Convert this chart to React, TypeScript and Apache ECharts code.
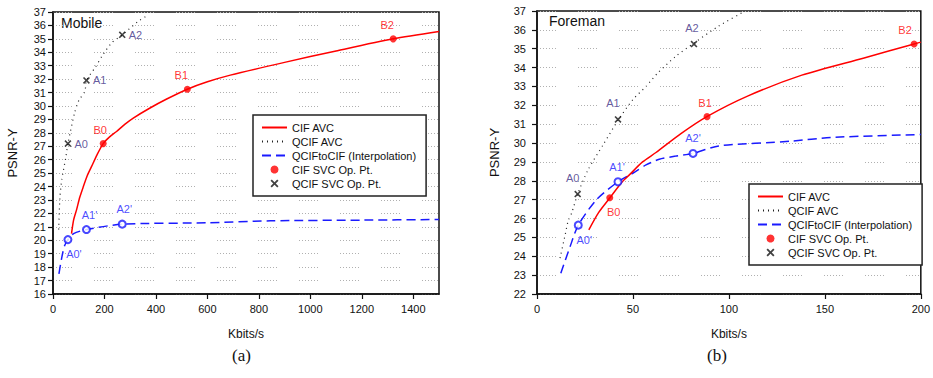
import React, { useEffect, useRef } from 'react';
import * as echarts from 'echarts';

// ---------- (a) Mobile ----------
const mobileCifAvc: number[][] = [
  [72, 20.5], [80, 21.5], [92, 22.3], [104, 23.2], [118, 24.0], [133, 24.8], [150, 25.5],
  [172, 26.4], [195, 27.2], [220, 27.7], [247, 28.1], [280, 28.65], [312, 29.1], [377, 29.85],
  [440, 30.5], [522, 31.25], [600, 31.8], [689, 32.3], [900, 33.25], [1100, 34.1], [1322, 35.0], [1500, 35.55],
];
const mobileQcifAvc: number[][] = [
  [22, 20.8], [27, 23.2], [34, 24.5], [50, 26.2], [58, 27.2], [84, 29.5], [100, 30.4],
  [124, 31.1], [130, 31.9], [165, 32.9], [190, 33.7], [228, 34.7], [269, 35.3], [331, 36.3], [364, 36.7],
];
const mobileInterp: number[][] = [
  [23, 17.5], [35, 18.8], [45, 19.6], [58, 20.05], [80, 20.5], [130, 20.8], [269, 21.2],
  [600, 21.3], [845, 21.45], [1200, 21.5], [1500, 21.55],
];
const mobileCifOp: number[][] = [[195, 27.2], [522, 31.25], [1322, 35.0]];
const mobileCifOpNames = ['B0', 'B1', 'B2'];
const mobileQcifOp: number[][] = [[58, 27.2], [130, 31.9], [269, 35.3]];
const mobileQcifOpNames = ['A0', 'A1', 'A2'];
const mobileInterpOp: number[][] = [[58, 20.05], [130, 20.8], [269, 21.2]];
const mobileInterpOpNames = ["A0'", "A1'", "A2'"];

// ---------- (b) Foreman ----------
const foremanCifAvc: number[][] = [
  [27, 25.4], [32, 26.3], [38, 27.1], [44, 27.9], [48, 28.3], [55, 29.0], [62, 29.5],
  [75, 30.5], [88.5, 31.4], [110, 32.5], [138, 33.6], [170, 34.5], [196.5, 35.25], [200, 35.35],
];
const foremanQcifAvc: number[][] = [
  [12, 23.9], [14.6, 25.1], [16.3, 25.9], [18.1, 26.3], [21.2, 27.3], [26.7, 28.6], [34.4, 29.9],
  [42.2, 31.2], [49.9, 32.3], [56.8, 33.0], [62.8, 33.7], [72.3, 34.6], [81.8, 35.3], [94.7, 36.2], [106.7, 36.9],
];
const foremanInterp: number[][] = [
  [12.4, 23.1], [17.2, 24.5], [21.5, 25.65], [31, 27.0], [42.2, 27.95], [49.9, 28.4], [56.8, 28.84],
  [63.7, 29.14], [72.3, 29.31], [81.3, 29.45], [94.7, 29.85], [132.6, 30.1], [153.3, 30.3], [200, 30.45],
];
const foremanCifOp: number[][] = [[37.9, 27.1], [88.6, 31.4], [196.5, 35.25]];
const foremanCifOpNames = ['B0', 'B1', 'B2'];
const foremanQcifOp: number[][] = [[21.2, 27.3], [42.2, 31.25], [81.8, 35.25]];
const foremanQcifOpNames = ['A0', 'A1', 'A2'];
const foremanInterpOp: number[][] = [[21.5, 25.65], [42.2, 27.95], [81.3, 29.45]];
const foremanInterpOpNames = ["A0'", "A1'", "A2'"];

const legendNames = ['CIF AVC', 'QCIF AVC', 'QCIFtoCIF (Interpolation)', 'CIF SVC Op. Pt.', 'QCIF SVC Op. Pt.'];
const legendLineNames = ['CIF AVC', 'QCIF AVC', 'QCIFtoCIF (Interpolation)'];

// label placement (style, kept apart from data)
const mobileCifLbl: any[] = [{ p: 'top', o: [-3, 0] }, { p: 'top', o: [-6, 0] }, { p: 'top', o: [-6, 0] }];
const mobileQcifLbl: any[] = [{ p: 'right', o: [-2, 0] }, { p: 'right', o: [-2, 0] }, { p: 'right', o: [-2, 0] }];
const mobileInterpLbl: any[] = [{ p: 'bottom', o: [6, -1] }, { p: 'top', o: [3, 0] }, { p: 'top', o: [2, 0] }];
const foremanCifLbl: any[] = [{ p: 'bottom', o: [4, 0] }, { p: 'top', o: [-2, 0] }, { p: 'top', o: [-9, 0] }];
const foremanQcifLbl: any[] = [{ p: 'top', o: [-5, -2] }, { p: 'top', o: [-5, -2] }, { p: 'top', o: [-2, -2] }];
const foremanInterpLbl: any[] = [{ p: 'bottom', o: [6, 0] }, { p: 'top', o: [-1, 0] }, { p: 'top', o: [0, 0] }];

const FONT = 'Liberation Sans, Arial, sans-serif';
const RED = '#ff0000';
const BLUE = '#1a1aff';
const PURPLE = '#3d2f85';
const CROSS = 'path://M0,1.6L1.6,0L5,3.4L8.4,0L10,1.6L6.6,5L10,8.4L8.4,10L5,6.6L1.6,10L0,8.4L3.4,5Z';
const GRID_DASH = [1, 2, 1, 2, 1, 2, 1, 2, 1, 2, 1, 2, 1, 22];

function pts(data: number[][], names: string[], lbl: any[], color: string) {
  return data.map((d, i) => ({
    value: d,
    name: names[i],
    label: { position: lbl[i].p, offset: lbl[i].o, color },
  }));
}

function makeSeries(idx: number, cif: number[][], qcif: number[][], interp: number[][],
  cifOp: any[], qcifOp: any[], interpOp: any[]) {
  const common = { xAxisIndex: idx, yAxisIndex: idx };
  return [
    {
      ...common, type: 'line', name: 'CIF AVC', data: cif, smooth: 0.25, showSymbol: false, symbol: 'none',
      lineStyle: { color: RED, width: 1.5 }, itemStyle: { color: RED }, z: 3,
    },
    {
      ...common, type: 'line', name: 'QCIF AVC', data: qcif, smooth: 0.25, showSymbol: false, symbol: 'none',
      lineStyle: { color: '#222', width: 1.2, type: [1, 4] }, itemStyle: { color: '#222' }, z: 2,
    },
    {
      ...common, type: 'line', name: 'QCIFtoCIF (Interpolation)', data: interp, smooth: 0.25, showSymbol: false, symbol: 'none',
      lineStyle: { color: BLUE, width: 1.5, type: [9, 5] }, itemStyle: { color: BLUE }, z: 2,
    },
    {
      ...common, type: 'scatter', name: 'CIF SVC Op. Pt.', data: cifOp, symbol: 'circle', symbolSize: 7,
      itemStyle: { color: RED }, label: { show: true, formatter: '{b}', fontFamily: FONT, fontSize: 11 }, z: 5,
    },
    {
      ...common, type: 'scatter', name: 'QCIF SVC Op. Pt.', data: qcifOp, symbol: CROSS, symbolSize: 7,
      itemStyle: { color: '#111' }, label: { show: true, formatter: '{b}', fontFamily: FONT, fontSize: 11 }, z: 5,
    },
    {
      ...common, type: 'scatter', name: 'Interp Op. Pt.', data: interpOp, symbol: 'emptyCircle', symbolSize: 7,
      itemStyle: { color: BLUE, borderColor: BLUE, borderWidth: 1.2 },
      label: { show: true, formatter: '{b}', fontFamily: FONT, fontSize: 11 }, z: 5,
    },
  ];
}

function xAxis(idx: number, max: number, interval: number, nameGap: number, hideMax: boolean) {
  return {
    type: 'value', gridIndex: idx, min: 0, max, interval,
    name: 'Kbits/s', nameLocation: 'middle', nameGap,
    nameTextStyle: { fontFamily: FONT, fontSize: 12, color: '#111' },
    axisLine: { show: true, onZero: false, lineStyle: { color: '#111', width: 1.5 } },
    axisTick: { show: true, length: 5, lineStyle: { color: '#111', width: 1.2 } },
    axisLabel: {
      fontFamily: FONT, fontSize: 11, color: '#111', margin: 9, showMaxLabel: !hideMax,
      formatter: (v: number) => String(v),
    },
    splitLine: { show: false },
  };
}

function yAxis(idx: number, min: number, margin: number, nameGap: number) {
  return {
    type: 'value', gridIndex: idx, min, max: 37, interval: 1,
    name: 'PSNR-Y', nameLocation: 'middle', nameGap,
    nameTextStyle: { fontFamily: FONT, fontSize: 13, color: '#111' },
    axisLine: { show: true, onZero: false, lineStyle: { color: '#111', width: 1.5 } },
    axisTick: { show: true, length: 5, lineStyle: { color: '#111', width: 1.2 } },
    axisLabel: { fontFamily: FONT, fontSize: 11, color: '#111', margin },
    splitLine: { show: true, lineStyle: { color: '#b0b0b0', width: 1, type: GRID_DASH } },
  };
}

function legend(left: number, top: number) {
  return {
    data: legendNames.map((n) =>
      legendLineNames.indexOf(n) >= 0 ? { name: n, itemStyle: { opacity: 0 } } : { name: n }),
    orient: 'vertical', left, top, selectedMode: false,
    itemWidth: 25, itemHeight: 8, itemGap: 3,
    padding: [7, 10, 7, 8],
    borderColor: '#222', borderWidth: 1.5, backgroundColor: '#fff',
    textStyle: { fontFamily: FONT, fontSize: 11, color: '#111' },
  };
}

export default function App() {
  const ref = useRef<HTMLDivElement>(null);
  useEffect(() => {
    if (!ref.current) return;
    const chart = echarts.init(ref.current, undefined, { renderer: 'svg' });
    const option: any = {
      animation: false,
      backgroundColor: '#fff',
      grid: [
        { left: 53, top: 12, width: 386, height: 282, show: true, borderColor: '#111', borderWidth: 1.5, backgroundColor: 'transparent' },
        { left: 537, top: 11, width: 386, height: 283, show: true, borderColor: '#111', borderWidth: 1.5, backgroundColor: 'transparent' },
      ],
      xAxis: [xAxis(0, 1500, 200, 34, true), xAxis(1, 200, 50, 34, false)],
      yAxis: [yAxis(0, 16, 7, 34), yAxis(1, 22, 11, 36)],
      legend: [legend(253, 115), legend(749, 184)],
      series: [
        ...makeSeries(0, mobileCifAvc, mobileQcifAvc, mobileInterp,
          pts(mobileCifOp, mobileCifOpNames, mobileCifLbl, RED),
          pts(mobileQcifOp, mobileQcifOpNames, mobileQcifLbl, PURPLE),
          pts(mobileInterpOp, mobileInterpOpNames, mobileInterpLbl, BLUE)),
        ...makeSeries(1, foremanCifAvc, foremanQcifAvc, foremanInterp,
          pts(foremanCifOp, foremanCifOpNames, foremanCifLbl, RED),
          pts(foremanQcifOp, foremanQcifOpNames, foremanQcifLbl, PURPLE),
          pts(foremanInterpOp, foremanInterpOpNames, foremanInterpLbl, BLUE)),
      ],
      graphic: [
        { type: 'text', left: 61, top: 16, style: { text: 'Mobile', font: '14px ' + FONT, fill: '#111' } },
        { type: 'text', left: 549, top: 14, style: { text: 'Foreman', font: '14px ' + FONT, fill: '#111' } },
        { type: 'text', left: 232, top: 347, style: { text: '(a)', font: '17px Liberation Serif, Times New Roman, serif', fill: '#111' } },
        { type: 'text', left: 707, top: 347, style: { text: '(b)', font: '17px Liberation Serif, Times New Roman, serif', fill: '#111' } },
      ],
    };
    chart.setOption(option);
    return () => chart.dispose();
  }, []);
  return <div ref={ref} style={{ position: 'absolute', left: 0, top: 0, width: 933, height: 378 }} />;
}
